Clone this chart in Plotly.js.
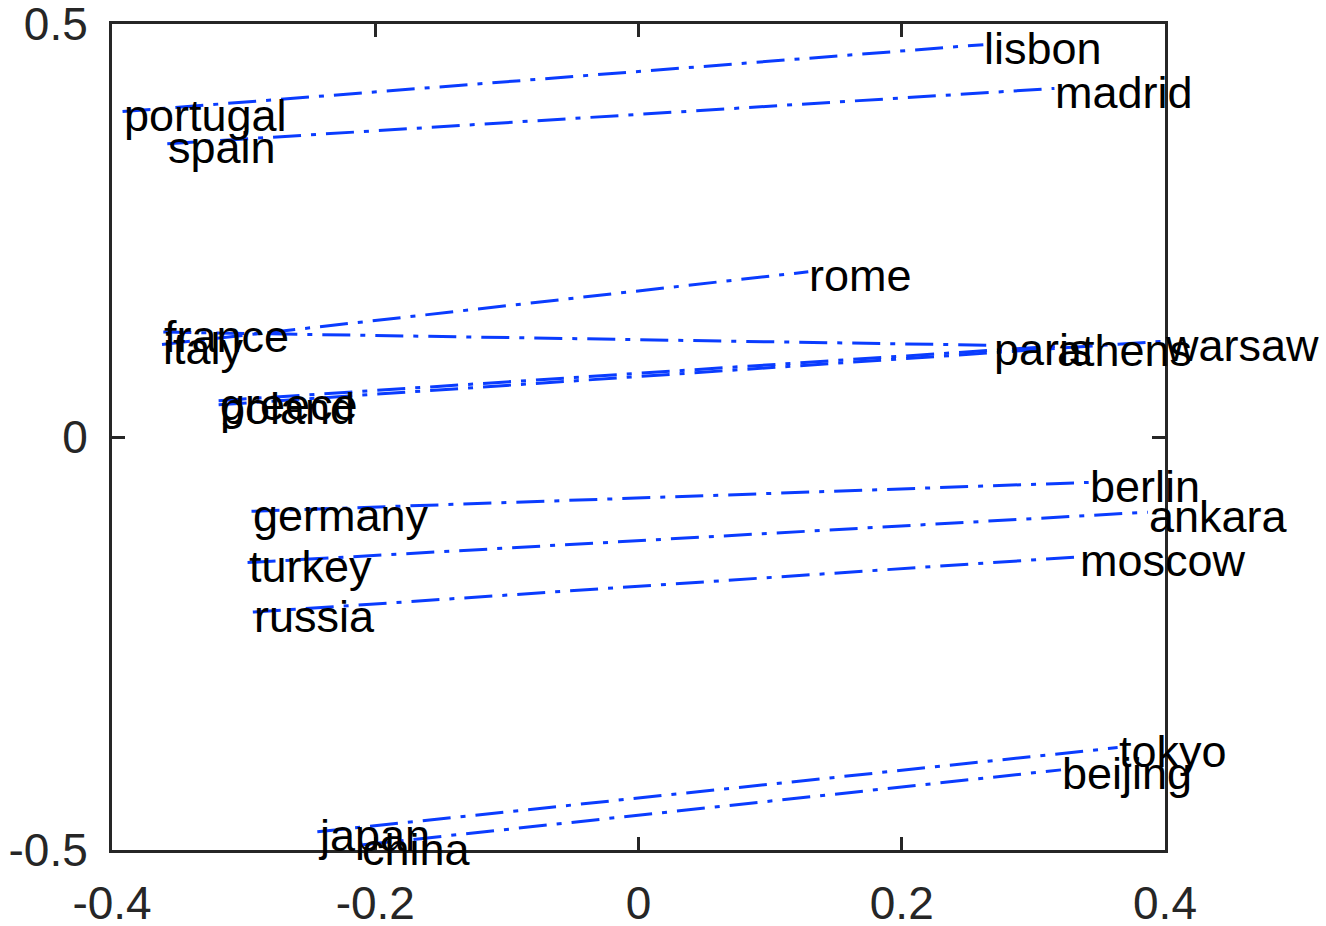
<!DOCTYPE html>
<html>
<head>
<meta charset="utf-8">
<script src="https://cdn.plot.ly/plotly-3.0.1.min.js"></script>
<style>html,body{margin:0;padding:0;background:#fff;}#chart{width:1326px;height:926px;}</style>
</head>
<body>
<div id="chart"></div>
<script>
// Country / capital word-vector projections
const countries = ["portugal","spain","france","italy","greece","poland","germany","turkey","russia","japan","china"];
const countryX = [-0.392,-0.358,-0.361,-0.362,-0.319,-0.319,-0.294,-0.297,-0.293,-0.244,-0.211];
const countryY = [0.394,0.355,0.127,0.112,0.044,0.039,-0.090,-0.152,-0.212,-0.478,-0.494];

const capitals = ["lisbon","madrid","paris","rome","athens","warsaw","berlin","ankara","moscow","tokyo","beijing"];
const capitalX = [0.262,0.316,0.269,0.129,0.317,0.399,0.342,0.387,0.335,0.364,0.321];
const capitalY = [0.475,0.422,0.111,0.200,0.110,0.116,-0.055,-0.091,-0.145,-0.376,-0.403];

const xTicks = [-0.4,-0.2,0,0.2,0.4];
const xTickText = ["-0.4","-0.2","0","0.2","0.4"];
const yTicks = [-0.5,0,0.5];
const yTickText = ["-0.5","0","0.5"];

const lineColor = "#0a3cff";
const axisColor = "#262626";
const fontFam = "Liberation Sans, Arial, sans-serif";

const traces = countries.map((c, i) => ({
  type: "scatter",
  mode: "lines",
  x: [countryX[i], capitalX[i]],
  y: [countryY[i], capitalY[i]],
  line: {color: lineColor, width: 3, dash: "28px,10px,5px,10px"},
  hoverinfo: "skip",
  showlegend: false
}));

const annotations = [];
function addLabels(names, xs, ys) {
  names.forEach((c, i) => {
    annotations.push({x: xs[i], y: ys[i], text: c, xref: "x", yref: "y",
      showarrow: false, xanchor: "left", yanchor: "middle", borderpad: 0, yshift: -4,
      font: {family: fontFam, size: 45, color: "#000"}});
  });
}
addLabels(countries, countryX, countryY);
addLabels(capitals, capitalX, capitalY);

const layout = {
  width: 1326, height: 926,
  margin: {l: 112, r: 161, t: 24, b: 76, pad: 0},
  paper_bgcolor: "#fff", plot_bgcolor: "#fff",
  showlegend: false,
  font: {family: fontFam, size: 46, color: axisColor},
  xaxis: {
    range: [-0.4, 0.4], tickvals: xTicks, ticktext: xTickText,
    ticks: "inside", ticklen: 13, tickwidth: 3, tickcolor: axisColor,
    showline: true, linewidth: 3, linecolor: axisColor, mirror: "ticks",
    showgrid: false, zeroline: false, ticklabelstandoff: 11, ticklabeloverflow: "allow",
    tickfont: {family: fontFam, size: 46, color: axisColor}
  },
  yaxis: {
    range: [-0.5, 0.5], tickvals: yTicks, ticktext: yTickText,
    ticks: "inside", ticklen: 13, tickwidth: 3, tickcolor: axisColor,
    showline: true, linewidth: 3, linecolor: axisColor, mirror: "ticks",
    showgrid: false, zeroline: false, ticklabelstandoff: 12, ticklabeloverflow: "allow",
    tickfont: {family: fontFam, size: 46, color: axisColor}
  },
  annotations: annotations
};

Plotly.newPlot("chart", traces, layout, {staticPlot: true, displayModeBar: false});
</script>
</body>
</html>
